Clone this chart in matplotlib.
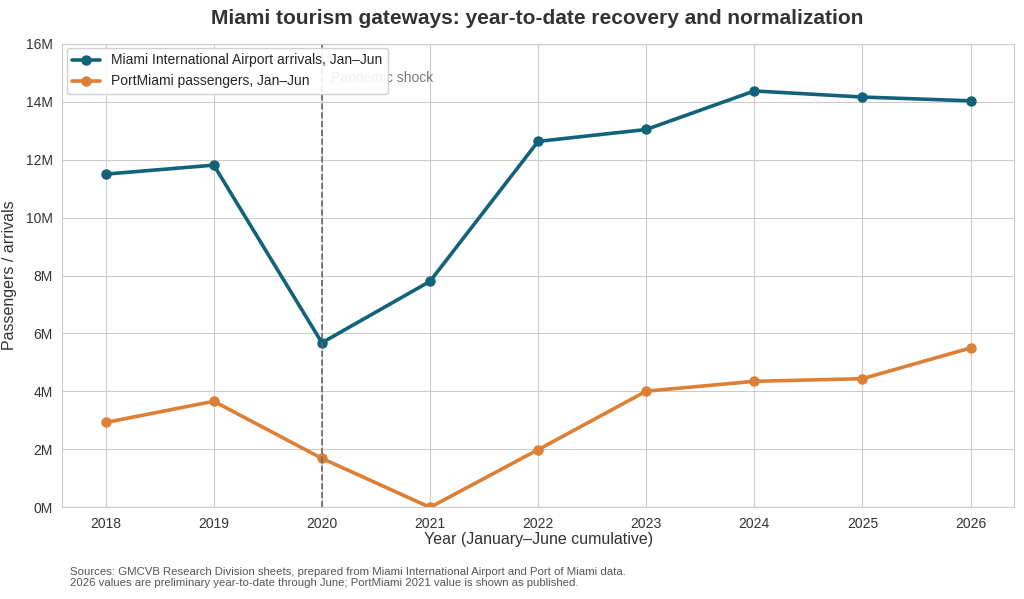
"""Miami tourism gateways chart."""

import matplotlib
matplotlib.use("Agg")
import matplotlib.pyplot as plt
import seaborn as sns
from matplotlib.ticker import FuncFormatter

years = [2018, 2019, 2020, 2021, 2022, 2023, 2024, 2025, 2026]
mia_arrivals = [11.50, 11.81, 5.68, 7.80, 12.63, 13.04, 14.37, 14.16, 14.03]
port_passengers = [2.93, 3.66, 1.69, 0.0, 1.99, 4.01, 4.35, 4.44, 5.50]

sns.set_style("whitegrid")
plt.rcParams["font.family"] = ["Liberation Sans", "DejaVu Sans"]

fig = plt.figure(figsize=(10.24, 5.99), dpi=100)
ax = fig.add_axes([0.061, 0.153, 0.929, 0.774])

ax.plot(years, mia_arrivals, color="#12627a", linewidth=2.6, marker="o", markersize=6.5,
        label="Miami International Airport arrivals, Jan\u2013Jun")
ax.plot(years, port_passengers, color="#de7f36", linewidth=2.6, marker="o", markersize=6.5,
        label="PortMiami passengers, Jan\u2013Jun")

ax.axvline(2020, color="#666666", linestyle="--", linewidth=1.2)
ax.text(2020.08, 14.8, "Pandemic shock", color="#777777", fontsize=10, va="center")

ax.set_xlim(2017.6, 2026.4)
ax.set_ylim(0, 16)
ax.set_xticks(years)
ax.set_yticks(range(0, 17, 2))
ax.yaxis.set_major_formatter(FuncFormatter(lambda v, _: f"{v:.0f}M"))
ax.tick_params(labelsize=10, colors="#333333")
for s in ax.spines.values():
    s.set_color("#cccccc")

ax.set_xlabel("Year (January\u2013June cumulative)", fontsize=11.5, color="#333333", labelpad=1)
ax.set_ylabel("Passengers / arrivals", fontsize=11.5, color="#333333", labelpad=6)
fig.suptitle("Miami tourism gateways: year-to-date recovery and normalization",
             x=0.525, y=0.985, fontsize=15, fontweight="bold", color="#333333")

ax.legend(loc="upper left", fontsize=10, frameon=True, framealpha=0.9,
          borderaxespad=0.3, handlelength=2)

fig.text(0.068, 0.018,
         "Sources: GMCVB Research Division sheets, prepared from Miami International Airport and Port of Miami data.\n"
         "2026 values are preliminary year-to-date through June; PortMiami 2021 value is shown as published.",
         fontsize=8.2, color="#555555", va="bottom", linespacing=1.1)

fig.savefig("out.png", dpi=100)
